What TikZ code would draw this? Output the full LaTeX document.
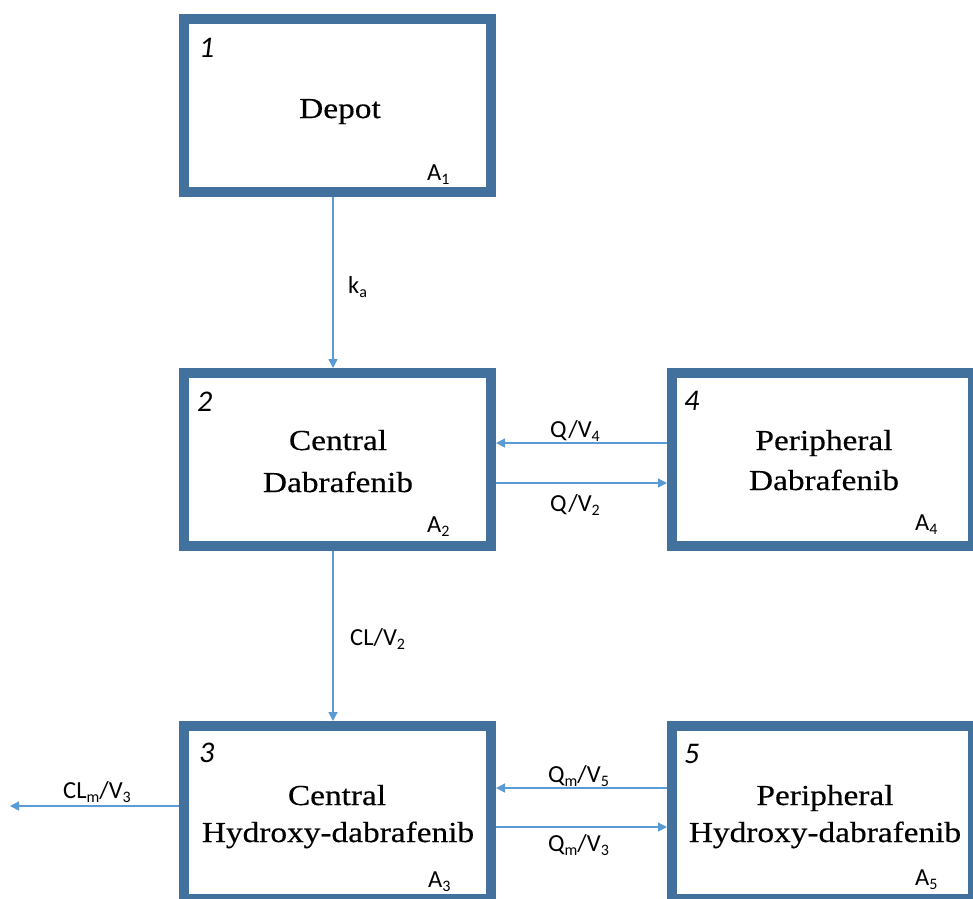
\documentclass[tikz,border=0pt]{standalone}
\usepackage{fontspec}
\setmainfont{Liberation Serif}[FakeStretch=1.15,FakeBold=0.4]
\newfontfamily\labfont{Carlito}
\usetikzlibrary{arrows.meta}
\definecolor{boxblue}{HTML}{41719C}
\definecolor{arrblue}{HTML}{5B9BD5}
\newcommand\lsub[1]{\raisebox{-0.4ex}{\fontsize{16pt}{16pt}\selectfont #1}}
\tikzset{
  box/.style={draw=boxblue, line width=10pt, minimum height=173pt, inner sep=0pt, outer sep=5pt, fill=none},
  arr/.style={draw=arrblue, line width=1.4pt, -{Triangle[width=9pt,length=9pt]}},
  main/.style={anchor=base, inner sep=0pt, font=\fontsize{29pt}{29pt}\selectfont},
  lab/.style={anchor=base west, inner sep=0pt, font=\labfont\fontsize{24.5pt}{24.5pt}\selectfont},
  num/.style={anchor=base west, inner sep=0pt, font=\labfont\itshape\fontsize{30pt}{30pt}\selectfont},
}
\begin{document}
\begin{tikzpicture}[x=1pt,y=-1pt]
\useasboundingbox (0,0) rectangle (973,898);
\clip (0,0) rectangle (973,898);
\fill[white] (0,0) rectangle (973,898);
% boxes
\node[box, minimum width=307pt] (b1) at (337.5,105.5) {};
\node[box, minimum width=307pt] (b2) at (337.5,459.5) {};
\node[box, minimum width=307pt] (b3) at (337.5,812.5) {};
\node[box, minimum width=301pt] (b4) at (822.5,459.5) {};
\node[box, minimum width=301pt] (b5) at (822.5,812.5) {};
% main texts
\node[main] (t1) at (340,118) {Depot};
\node[main] (t2a) at (338,450) {Central};
\node[main] (t2b) at (338,492) {Dabrafenib};
\node[main] (t4a) at (824,450) {Peripheral};
\node[main] (t4b) at (824,490) {Dabrafenib};
\node[main] (t3a) at (337,805) {Central};
\node[main] (t3b) at (338,842) {Hydroxy-dabrafenib};
\node[main] (t5a) at (825,805) {Peripheral};
\node[main] (t5b) at (825,842) {Hydroxy-dabrafenib};
% numbers
\node[num] (n1) at (199,57) {1};
\node[num] (n2) at (197,411) {2};
\node[num] (n3) at (199,762) {3};
\node[num] (n4) at (684,410) {4};
\node[num] (n5) at (684,763) {5};
% amounts
\node[lab] (a1) at (427,180) {A\lsub{1}};
\node[lab] (a2) at (427,532) {A\lsub{2}};
\node[lab] (a3) at (428,887) {A\lsub{3}};
\node[lab] (a4) at (915,530) {A\lsub{4}};
\node[lab] (a5) at (915,885) {A\lsub{5}};
% connectors
\coordinate (out) at (10,806);
\draw[arr] ([xshift=-4.5pt]b1.south) -- ([xshift=-4.5pt]b2.north);
\draw[arr] ([xshift=-4.5pt]b2.south) -- ([xshift=-4.5pt]b3.north);
\draw[arr] ([yshift=16.5pt]b4.west) -- ([yshift=16.5pt]b2.east);
\draw[arr] ([yshift=-23.5pt]b2.east) -- ([yshift=-23.5pt]b4.west);
\draw[arr] ([yshift=24.5pt]b5.west) -- ([yshift=24.5pt]b3.east);
\draw[arr] ([yshift=-14.5pt]b3.east) -- ([yshift=-14.5pt]b5.west);
\draw[arr] ([yshift=6.5pt]b3.west) -- (out);
% rate labels
\node[lab] (lka) at (348,293) {k\lsub{a}};
\node[lab] (lcl) at (350,645) {CL/V\lsub{2}};
\node[lab] (lq4) at (550,437) {Q/V\lsub{4}};
\node[lab] (lq2) at (550,511) {Q/V\lsub{2}};
\node[lab] (lqm5) at (548,782) {Q\lsub{m}/V\lsub{5}};
\node[lab] (lqm3) at (548,851) {Q\lsub{m}/V\lsub{3}};
\node[lab] (lclm) at (63,798) {CL\lsub{m}/V\lsub{3}};
\end{tikzpicture}
\end{document}
